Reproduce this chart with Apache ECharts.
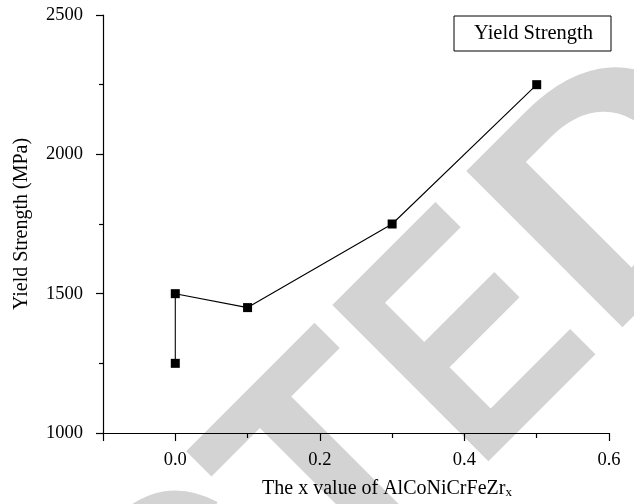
<!DOCTYPE html>
<html>
<head>
<meta charset="utf-8">
<script src="https://cdn.jsdelivr.net/npm/echarts@6/dist/echarts.min.js"></script>
<style>
  html, body { margin: 0; padding: 0; background: #fff; }
  #chart { width: 634px; height: 504px; }
</style>
</head>
<body>
<div id="chart"></div>
<script>
// Zr content x and measured yield strength (MPa)
const zrContent = [0, 0, 0.1, 0.3, 0.5];
const yieldStrength = [1250, 1500, 1450, 1750, 2250];
const seriesName = 'Yield Strength';

// Axis ticks
const xMajorTicks = [-0.1, 0, 0.2, 0.4, 0.6];
const xLabelValues = [0, 0.2, 0.4, 0.6];
const xMinorTicks = [0.1, 0.3, 0.5];

const SERIF = '"Liberation Serif", "DejaVu Serif", serif';
const STAMP_FONT = 'bold 321px "Liberation Sans", Arial, sans-serif';
const STAMP_BASE = -93; // puts the glyph baseline on the group's x axis

const points = zrContent.map((x, i) => [x, yieldStrength[i]]);

const chart = echarts.init(document.getElementById('chart'), null, { renderer: 'canvas' });

// one letter run of the diagonal stamp, in the rotated group's frame
function stampPiece(text, x, sx, align) {
  return {
    type: 'text', x: x, y: STAMP_BASE, scaleX: sx, silent: true,
    style: { text: text, font: STAMP_FONT, fill: '#d3d3d3', textAlign: align, textVerticalAlign: 'middle' }
  };
}

const baseX = { type: 'value', min: -0.1, max: 0.6, splitLine: { show: false } };

chart.setOption({
  backgroundColor: '#ffffff',
  animation: false,
  grid: { left: 103, top: 15, width: 506, height: 418, containLabel: false },
  legend: {
    data: [seriesName], left: 454, top: 16, orient: 'vertical',
    itemWidth: 0, itemHeight: 0, itemGap: 0, padding: [7, 18, 7, 14],
    borderColor: '#000', borderWidth: 1,
    textStyle: { fontFamily: SERIF, fontSize: 20.5, color: '#000' }
  },
  // "RETRACTED" stamp running diagonally behind the plot
  graphic: [{
    type: 'group', z: -10, silent: true, x: 493, y: 463, rotation: Math.PI / 4,
    children: [
      stampPiece('RETRAC', -212, 0.9, 'right'),
      stampPiece('T', -212, 0.96, 'left'),
      stampPiece('E', -20, 0.84, 'left'),
      stampPiece('D', 165, 1.05, 'left')
    ]
  }],
  xAxis: [
    Object.assign({}, baseX, {
      position: 'bottom',
      name: '{a|The x value of AlCoNiCrFeZr}{sub|x}',
      nameLocation: 'middle', nameGap: 46,
      nameTextStyle: {
        padding: [0, 0, 0, 62],
        rich: {
          a: { fontFamily: SERIF, fontSize: 20, lineHeight: 20, color: '#000' },
          sub: { fontFamily: SERIF, fontSize: 13, lineHeight: 8, verticalAlign: 'bottom', color: '#000' }
        }
      },
      axisLine: { show: true, onZero: false, lineStyle: { color: '#000', width: 1.2 } },
      axisTick: { show: true, length: 8, customValues: xMajorTicks, lineStyle: { color: '#000', width: 1.2 } },
      axisLabel: { customValues: xLabelValues, margin: 18, fontFamily: SERIF, fontSize: 18.5, color: '#000', formatter: v => v.toFixed(1) }
    }),
    // minor ticks between the labelled values
    Object.assign({}, baseX, {
      position: 'top', offset: -418, axisLine: { show: false },
      axisTick: { show: true, inside: true, length: 5, customValues: xMinorTicks, lineStyle: { color: '#000', width: 1.2 } },
      axisLabel: { show: false }
    })
  ],
  yAxis: {
    type: 'value', min: 1000, max: 2500, interval: 500,
    name: 'Yield Strength (MPa)', nameLocation: 'middle', nameGap: 71,
    nameTextStyle: { fontFamily: SERIF, fontSize: 20, color: '#000' },
    axisLine: { show: true, onZero: false, lineStyle: { color: '#000', width: 1.2 } },
    axisTick: { show: true, length: 7, lineStyle: { color: '#000', width: 1.2 } },
    minorTick: { show: true, splitNumber: 2, length: 4, lineStyle: { color: '#000', width: 1.2 } },
    splitLine: { show: false },
    axisLabel: { margin: 20, fontFamily: SERIF, fontSize: 18.5, color: '#000', formatter: v => String(v) }
  },
  series: [{
    name: seriesName, type: 'line', data: points, symbol: 'rect', symbolSize: 9,
    itemStyle: { color: '#000' }, lineStyle: { color: '#000', width: 1.1 }, z: 5
  }]
});
</script>
</body>
</html>
